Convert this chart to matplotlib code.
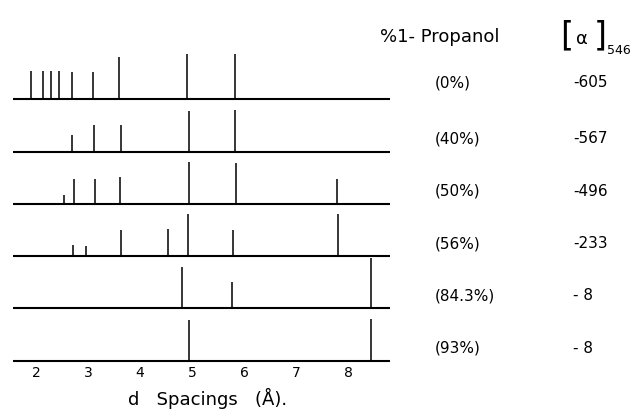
import matplotlib
matplotlib.use('Agg')
import matplotlib.pyplot as plt
import matplotlib.transforms as mtransforms

# peak positions (d spacing, A) and relative intensities for each propanol content
propanol = ['(0%)', '(40%)', '(50%)', '(56%)', '(84.3%)', '(93%)']
rotation = ['-605', '-567', '-496', '-233', '- 8', '- 8']

d_0 = [1.90, 2.13, 2.29, 2.44, 2.69, 3.10, 3.60, 4.91, 5.83]
i_0 = [62, 62, 62, 62, 60, 60, 93, 100, 100]
d_40 = [2.69, 3.12, 3.63, 4.94, 5.83]
i_40 = [36, 58, 58, 91, 93]
d_50 = [2.53, 2.74, 3.13, 3.62, 4.94, 5.84, 7.79]
i_50 = [20, 56, 56, 60, 93, 91, 56]
d_56 = [2.72, 2.96, 3.63, 4.54, 4.92, 5.78, 7.81]
i_56 = [24, 22, 58, 60, 93, 58, 93]
d_84 = [4.80, 5.76, 8.45]
i_84 = [91, 58, 111]
d_93 = [4.94, 8.45]
i_93 = [91, 93]

rows = [(d_0, i_0), (d_40, i_40), (d_50, i_50), (d_56, i_56), (d_84, i_84), (d_93, i_93)]
xticks = [2, 3, 4, 5, 6, 7, 8]

plt.rcParams['font.family'] = ['DejaVu Sans']
fig = plt.figure(figsize=(6.4, 4.18), dpi=100)
W, H = 640.0, 418.0

# axes: x from pixel 13 to 390, y baseline of last row at pixel 360.7
ax = fig.add_axes([13 / W, 1 - 360.7 / H, (390 - 13) / W, 313.8 / H])
xmin = 2 + (13 - 36) / 52.0
xmax = 2 + (390 - 36) / 52.0
ax.set_xlim(xmin, xmax)
ax.set_ylim(0, 6.0)

scale = 45 / 52.3 / 100.0  # intensity -> row units
n = len(rows)
for k, (d, inten) in enumerate(rows):
    base = n - 1 - k
    ax.hlines(base, xmin, xmax, color='black', lw=1.5, clip_on=False)
    ax.vlines(d, base, [base + v * scale for v in inten], color='black', lw=1.1, clip_on=False)

for s in ax.spines.values():
    s.set_visible(False)
ax.set_yticks([])
ax.set_xticks(xticks)
ax.set_xticklabels([str(t) for t in xticks], fontsize=10)
ax.tick_params(axis='x', length=0, pad=4)

# right-hand labels
tr = mtransforms.blended_transform_factory(fig.transFigure, ax.transData)
for k in range(n):
    base = n - 1 - k
    yoff = 0.31 if k == 0 else 0.24
    ax.text(435 / W, base + yoff, propanol[k], transform=tr, fontsize=11,
            ha='left', va='center')
    ax.text(573 / W, base + yoff, rotation[k], transform=tr, fontsize=11,
            ha='left', va='center')

# headers
fig.text(380 / W, 1 - 37 / H, '%1- Propanol', fontsize=13, ha='left', va='center')
fig.text(560 / W, 1 - 36 / H, '[', fontsize=24, ha='left', va='center')
fig.text(582 / W, 1 - 39 / H, 'α', fontsize=13, ha='center', va='center')
fig.text(594 / W, 1 - 36 / H, ']', fontsize=24, ha='left', va='center')
fig.text(607 / W, 1 - 50 / H, '546', fontsize=9, ha='left', va='center')

fig.text(128 / W, 1 - 398 / H, 'd   Spacings   (Å).', fontsize=13, ha='left', va='center')

fig.savefig('out.png', dpi=100)
